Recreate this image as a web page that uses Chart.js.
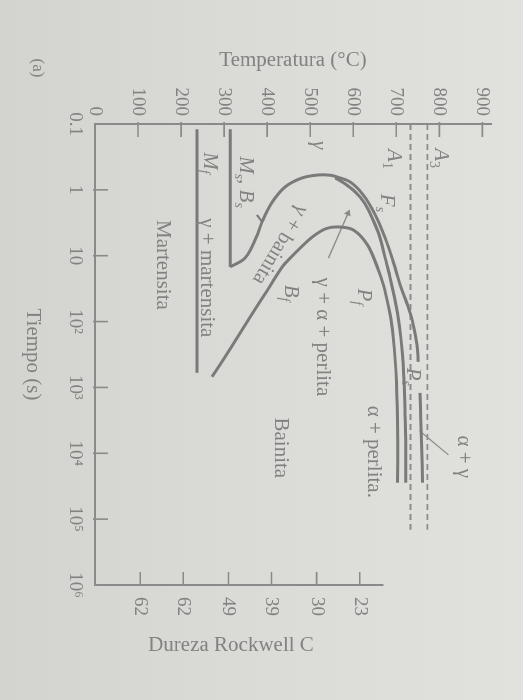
<!DOCTYPE html>
<html lang="es">
<head>
<meta charset="utf-8">
<title>Diagrama TTT</title>
<script src="https://cdn.jsdelivr.net/npm/chart.js@4.4.1/dist/chart.umd.min.js"></script>
<style>
html, body { margin:0; padding:0; }
body { width:523px; height:700px; overflow:hidden; position:relative;
  background: linear-gradient(90deg, #d3d3cf 0%, #dadad6 45%, #e1e1dd 100%); }
#wrap { position:absolute; left:0; top:0; width:700px; height:523px;
  transform-origin:0 0; transform: translate(523px,0) rotate(90deg); }
canvas { display:block; }
</style>
</head>
<body>
<div id="wrap"><canvas id="ttt" width="700" height="523"></canvas></div>
<script>
// ---------------- data (time in s, temperature in °C) ----------------
const timeTicks = [0.1, 1, 10, 100, 1000, 10000, 100000, 1000000];
const timeTickLabels = ['0.1', '1', '10', '10²', '10³', '10⁴', '10⁵', '10⁶'];
const tempTicks = [0, 100, 200, 300, 400, 500, 600, 700, 800, 900];
const hardnessTemps = [105, 205, 310, 410, 515, 615];
const hardnessLabels = ['62', '62', '49', '39', '30', '23'];
const hardnessAxisTop = 670;

// start of transformation: Bs (lower branch) -> nose -> Fs (upper branch)
const startTimes = [14.8, 10.8, 4.83, 3.07, 1.53, 0.90, 0.66, 0.594, 0.60, 0.64, 0.76, 1.19, 2.40, 5.37, 12.4, 27.7, 55.8, 101, 226, 409];
const startTemps = [314, 349, 377, 388, 412, 442, 481, 519, 547, 563, 593, 623, 651, 674, 693, 709, 726, 738, 748, 751];
const fsTailTimes = [1210, 3100, 8850, 28000];
const fsTailTemps = [755, 757, 759, 761];
// pearlite start
const psTimes = [0.66, 0.81, 1.08, 1.58, 2.67, 5.01, 10.8, 19.5, 46.9, 112, 288, 767, 2190, 6240, 28000];
const psTemps = [558, 581, 605, 626, 644, 661, 674, 684, 697, 707, 714, 718, 720, 722, 722];
// finish: Bf (lower branch) -> nose -> Pf (upper branch)
const finishTimes = [690, 259, 112, 38.0, 14.8, 10.8, 7.62, 5.19, 3.92, 3.65, 4.06, 6.85, 13.8, 27.7, 55.8, 134, 541, 3100, 28000];
const finishTemps = [272, 314, 349, 395, 435, 454, 477, 505, 535, 563, 600, 633, 654, 670, 681, 691, 699, 703, 703];
// martensite lines
const msTimes = [0.12, 14.8];
const msTemps = [314, 314];
const mfTimes = [0.12, 600];
const mfTemps = [237, 237];
// critical temperatures (dashed)
const criticalTimes = [0.1, 145000];
const a1Temps = [733, 733];
const a3Temps = [772, 772];
// leader lines
const alphaGammaLeaderTimes = [4560, 10540];
const alphaGammaLeaderTemps = [754, 821];
const perlitaArrowTimes = [10.9, 2.26];
const perlitaArrowTemps = [542, 588];
const bsLeaderTimes = [2.40, 3.04];
const bsLeaderTemps = [376, 388];

// ---------------- styling ----------------
const FONT = '"Liberation Serif", "DejaVu Serif", serif';
const INK = '#828282';
const LINE = '#7a7a7a';
const AXIS = '#8a8a8a';

function pts(ts, Ts) { return ts.map((t, i) => ({x: t, y: Ts[i]})); }
function curve(ts, Ts, extra) {
  return Object.assign({data: pts(ts, Ts), showLine: true, borderColor: LINE, backgroundColor: LINE,
    borderWidth: 3, pointRadius: 0, tension: 0.35, fill: false}, extra || {});
}

const datasets = [
  curve(startTimes, startTemps),
  curve(fsTailTimes, fsTailTemps),
  curve(psTimes, psTemps),
  curve(finishTimes, finishTemps),
  curve(msTimes, msTemps, {tension: 0}),
  curve(mfTimes, mfTemps, {tension: 0}),
  curve(criticalTimes, a1Temps, {tension: 0, borderWidth: 1.8, borderDash: [6, 4], borderColor: '#8c8c8c'}),
  curve(criticalTimes, a3Temps, {tension: 0, borderWidth: 1.8, borderDash: [6, 4], borderColor: '#8c8c8c'}),
  curve(alphaGammaLeaderTimes, alphaGammaLeaderTemps, {tension: 0, borderWidth: 1.2, borderColor: '#8c8c8c'}),
  curve(perlitaArrowTimes, perlitaArrowTemps, {tension: 0, borderWidth: 1.3, borderColor: '#8a8a8a',
    pointRadius: [0, 4], pointStyle: 'triangle', pointRotation: [0, -66], pointBackgroundColor: '#8a8a8a', pointBorderWidth: 0}),
  curve(bsLeaderTimes, bsLeaderTemps, {tension: 0, borderWidth: 2})
];

// annotation texts (t = time, T = temperature); style: i italic, s subscript
const notes = [
  {parts: [['α + γ', '']], t: 11300, T: 856},
  {parts: [['α + perlita.', '']], t: 9480, T: 646},
  {parts: [['Bainita', '']], t: 8260, T: 430},
  {parts: [['γ + α + perlita', '']], t: 171, T: 528},
  {parts: [['P', 'i'], ['f', 'is']], t: 42, T: 623},
  {parts: [['P', 'i'], ['s', 'is']], t: 690, T: 737},
  {parts: [['B', 'i'], ['f', 'is']], t: 37, T: 454},
  {parts: [['γ + bainita', '']], t: 6.85, T: 430, rot: 31},
  {parts: [['M', 'i'], ['s', 'is'], [', ', ''], ['B', 'i'], ['s', 'is']], t: 0.76, T: 349},
  {parts: [['M', 'i'], ['f', 'is']], t: 0.39, T: 267},
  {parts: [['γ + martensita', '']], t: 21.7, T: 260},
  {parts: [['Martensita', '']], t: 13.8, T: 156},
  {parts: [['γ', 'i']], t: 0.21, T: 519},
  {parts: [['A', 'i'], ['3', 's']], t: 0.33, T: 802},
  {parts: [['A', 'i'], ['1', 's']], t: 0.34, T: 693},
  {parts: [['F', 'i'], ['s', 'is']], t: 1.58, T: 677}
];

function drawParts(ctx, parts, size) {
  const segs = parts.map(([txt, st]) => {
    const sub = st.indexOf('s') >= 0, it = st.indexOf('i') >= 0;
    const fs = sub ? Math.round(size * 0.68) : size;
    const font = (it ? 'italic ' : '') + fs + 'px ' + FONT;
    ctx.font = font;
    return {txt, sub, font, w: ctx.measureText(txt).width};
  });
  const total = segs.reduce((s, g) => s + g.w, 0);
  let cx = -total / 2;
  for (const g of segs) {
    ctx.font = g.font;
    ctx.fillText(g.txt, cx, g.sub ? size * 0.3 : 0);
    cx += g.w;
  }
}

const decor = {
  id: 'decor',
  afterDraw(chart) {
    const {ctx, chartArea: a, scales: {x, y}} = chart;
    ctx.save();
    ctx.strokeStyle = AXIS;
    ctx.lineWidth = 2;
    // hardness axis (partial)
    ctx.beginPath();
    ctx.moveTo(a.right, y.getPixelForValue(0));
    ctx.lineTo(a.right, y.getPixelForValue(hardnessAxisTop));
    ctx.stroke();
    ctx.lineWidth = 1.6;
    // inward tick marks
    ctx.beginPath();
    tempTicks.slice(1).forEach(v => { const p = y.getPixelForValue(v); ctx.moveTo(a.left - 2, p); ctx.lineTo(a.left + 13, p); });
    timeTicks.slice(1, -1).forEach(v => { const p = x.getPixelForValue(v); ctx.moveTo(p, a.bottom + 2); ctx.lineTo(p, a.bottom - 13); });
    hardnessTemps.forEach(v => { const p = y.getPixelForValue(v); ctx.moveTo(a.right + 1, p); ctx.lineTo(a.right - 13, p); });
    ctx.stroke();
    // annotations
    ctx.fillStyle = INK;
    ctx.textBaseline = 'middle';
    ctx.textAlign = 'left';
    for (const n of notes) {
      ctx.save();
      ctx.translate(x.getPixelForValue(n.t), y.getPixelForValue(n.T));
      if (n.rot) ctx.rotate(n.rot * Math.PI / 180);
      drawParts(ctx, n.parts, 21);
      ctx.restore();
    }
    // hardness title
    ctx.save();
    ctx.translate(645, 292);
    ctx.rotate(-Math.PI / 2);
    ctx.textAlign = 'center';
    ctx.font = '21px ' + FONT;
    ctx.fillText('Dureza Rockwell C', 0, 0);
    ctx.restore();
    // panel label
    ctx.textAlign = 'center';
    ctx.font = '17px ' + FONT;
    ctx.fillText('(a)', 68, 486);
    ctx.restore();
  }
};

const tickFont = {family: FONT, size: 19};
new Chart(document.getElementById('ttt'), {
  type: 'scatter',
  data: {datasets},
  options: {
    responsive: false,
    animation: false,
    layout: {padding: {top: 32, left: 0, right: 0, bottom: 0}},
    plugins: {legend: {display: false}, tooltip: {enabled: false}},
    scales: {
      x: {
        type: 'logarithmic', position: 'bottom', min: 0.1, max: 1000000,
        afterBuildTicks: s => { s.ticks = timeTicks.map(v => ({value: v})); },
        ticks: {callback: (v, i) => timeTickLabels[i], font: tickFont, color: INK, padding: 9,
          autoSkip: false, maxRotation: 0, minRotation: 0},
        grid: {display: false, drawTicks: false, tickLength: 0},
        border: {display: true, color: AXIS, width: 2},
        title: {display: true, text: 'Tiempo (s)', color: INK, font: {family: FONT, size: 21}, padding: {top: 0, bottom: 20}},
        afterFit: s => { s.height = 95; }
      },
      y: {
        type: 'linear', position: 'left', min: 0, max: 920,
        afterBuildTicks: s => { s.ticks = tempTicks.map(v => ({value: v})); },
        ticks: {callback: v => String(v), font: tickFont, color: INK, padding: 8},
        grid: {display: false, drawTicks: false, tickLength: 0},
        border: {display: true, color: AXIS, width: 2},
        title: {display: true, text: 'Temperatura (°C)', color: INK, font: {family: FONT, size: 21}, padding: {top: 48, bottom: 0}},
        afterFit: s => { s.width = 124; }
      },
      y2: {
        type: 'linear', position: 'right', min: 0, max: 920,
        afterBuildTicks: s => { s.ticks = hardnessTemps.map(v => ({value: v})); },
        ticks: {callback: (v, i) => hardnessLabels[i], font: tickFont, color: INK, padding: 12},
        grid: {display: false, drawTicks: false, tickLength: 0},
        border: {display: false},
        afterFit: s => { s.width = 115; }
      }
    }
  },
  plugins: [decor]
});
</script>
</body>
</html>
